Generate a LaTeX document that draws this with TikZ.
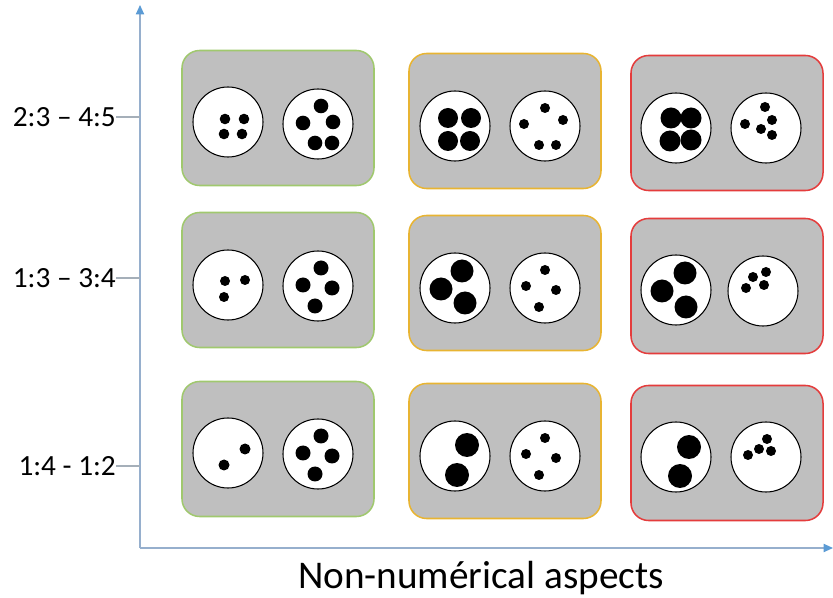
\documentclass[tikz,border=0pt]{standalone}
\usepackage{fontspec}
\setmainfont{Carlito}
\usetikzlibrary{arrows.meta,positioning}
\definecolor{axisblue}{RGB}{150,175,205}
\definecolor{tipblue}{RGB}{91,155,213}
\definecolor{tickgray}{RGB}{165,175,185}
\definecolor{panelgray}{RGB}{191,191,191}
\definecolor{easygreen}{RGB}{160,200,110}
\definecolor{midorange}{RGB}{232,180,50}
\definecolor{hardred}{RGB}{228,60,60}
\tikzset{
    %Define style for the grey boxes
    panel/.style={
           rectangle,
           rounded corners=15pt,
           fill=panelgray,
           draw=#1, line width=1.3pt,
           minimum width=5.76cm,
           minimum height=4.05cm},
    %Define style for the white sets
    pool/.style={
           circle,
           draw=black, line width=0.9pt,
           fill=white,
           inner sep=0pt,
           minimum size=2.1cm},
    ticklabel/.style={
           anchor=east,
           inner sep=0pt,
           font=\fontsize{25}{29}\selectfont},
    % Define arrow style
    axis/.style={
           draw=axisblue, line width=1.2pt,
           -{Triangle[length=8pt,width=7pt,color=tipblue]}}
}
\begin{document}
\begin{tikzpicture}[x=0.03cm,y=-0.03cm]
\useasboundingbox (0,0) rectangle (833,598);

 %axes
\coordinate (origin) at (140,548);
\coordinate (ytop) at (140,5);
\coordinate (xend) at (833,548);
\draw[axis] (origin) -- (ytop);
\draw[axis] (origin) -- (xend);
\foreach \name/\y/\txt in {ta/117/{2:3 -- 4:5}, tb/278/{1:3 -- 3:4}, tc/466/{1:4 - 1:2}} {
  \node[ticklabel] (\name) at (116,\y) {\txt};
  \coordinate (\name x) at (140,\y);
  \draw[tickgray, line width=1pt] (\name) -- (\name x);
}
\node[font=\fontsize{33.5}{38}\selectfont] (xlab) at (481,578) {Non-numérical aspects};

 %boxes
\node[panel=easygreen] (p11) at (278,118) {};
\node[panel=easygreen] (p21) at (278,280) {};
\node[panel=easygreen] (p31) at (278,449) {};
\node[panel=midorange] (p12) at (505,121) {};
\node[panel=midorange] (p22) at (505,283) {};
\node[panel=midorange] (p32) at (505,451) {};
\node[panel=hardred] (p13) at (727,123) {};
\node[panel=hardred] (p23) at (727,286) {};
\node[panel=hardred] (p33) at (727,453) {};

 %sets
\node[pool] (c11a) at (228,122) {};
\node[pool] (c11b) at (318,124) {};
\node[pool] (c12a) at (455,126) {};
\node[pool] (c12b) at (545,126) {};
\node[pool] (c13a) at (676,128) {};
\node[pool] (c13b) at (766,128) {};
\node[pool] (c21a) at (228,285) {};
\node[pool] (c21b) at (318,286) {};
\node[pool] (c22a) at (455,288) {};
\node[pool] (c22b) at (545,288) {};
\node[pool] (c23a) at (676,290) {};
\node[pool] (c23b) at (763,291) {};
\node[pool] (c31a) at (228,453) {};
\node[pool] (c31b) at (318,454) {};
\node[pool] (c32a) at (455,456) {};
\node[pool] (c32b) at (545,456) {};
\node[pool] (c33a) at (676,457) {};
\node[pool] (c33b) at (766,457) {};

 %dots
\foreach \x/\y/\r in {225/119/5.3, 244/119/5.3, 224/134/5.3, 242/134/5.3,
    321/106/7.3, 303/123/7.3, 333/122/7.3, 315/143/7.3, 332/143/7.3,
    448/118/10, 471/118/10, 448/141/10, 470/141/10,
    545/108/5, 524/124/5, 563/120/5, 539/145/5, 556/145/5,
    671/118/10.5, 691/118/10.5, 670/141/10.5, 691/140/10.5,
    765/107/5, 745/124/5, 772/120/5, 761/129/5, 772/135/5,
    225/281/5, 245/280/5, 224/297/5,
    321/268/7.5, 303/285/7.5, 332/288/7.5, 315/306/7.5,
    462/271/11.5, 441/289/11.5, 465/303/11.5,
    545/270/5, 526/286/5, 556/290/5, 539/307/5,
    685/273/11.5, 662/291/11.5, 686/307/11.5,
    753/277/5, 766/272/5, 746/288/5, 764/285/5,
    245/449/5.5, 224/465/5.5,
    321/436/7.5, 303/453/7.5, 332/456/7.5, 315/474/7.5,
    467/445/12, 457/475/12,
    545/438/5, 526/454/5, 556/458/5, 539/475/5,
    689/447/12, 680/476/12,
    767/439/5, 759/449/5, 771/451/5, 748/455/5}
  \fill (\x,\y) circle[radius=\r*0.03cm];
\end{tikzpicture}
\end{document}
